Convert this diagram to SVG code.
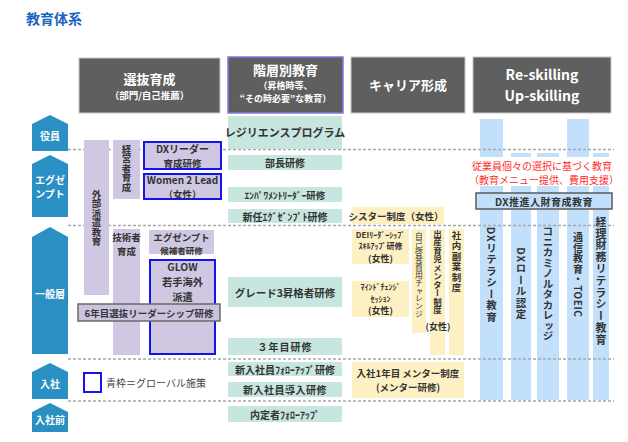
<svg xmlns="http://www.w3.org/2000/svg" width="628" height="442" viewBox="0 0 628 442">
<style>
text{font-family:"Noto Sans CJK JP","Noto Sans",sans-serif;font-weight:bold;fill:#333;text-anchor:middle;dominant-baseline:central}
.hdr{fill:#5f5f5f;stroke:#c8c8c8;stroke-width:1}
.ht{fill:#fff}
.pent{fill:#2a90c3}
.pt{fill:#fff;font-size:10px}
.pur{fill:#d0c8e2}
.glob{fill:#d0c8e2;stroke:#1414f0;stroke-width:2}
.teal{fill:#c6e6df}
.yel{fill:#fdf1c4}
.blu{fill:#c2e0fb}
.v{writing-mode:vertical-rl}
.dash{stroke:#a8a8a8;stroke-width:1.5;stroke-dasharray:3 2;fill:none}
.red{fill:#ff2d2d;font-weight:normal;font-size:10px}
</style>
<rect width="628" height="442" fill="#fff"/>
<text x="26" y="18" style="text-anchor:start;fill:#1d63c2;font-size:14px">教育体系</text>

<!-- headers -->
<g id="h-senbatsu"><rect class="hdr" x="79" y="58" width="141" height="55"/>
<text class="ht" x="149.5" y="78" font-size="13">選抜育成</text>
<text class="ht" x="149.5" y="95" font-size="9.5">（部門/自己推薦）</text></g>
<g id="h-kaiso"><rect x="228" y="57" width="115" height="56" fill="#5f5f5f" stroke="#7b7be8" stroke-width="1.5"/>
<text class="ht" x="285.5" y="69.5" font-size="13">階層別教育</text>
<text class="ht" x="285.5" y="85.5" font-size="9">（昇格時等、</text>
<text class="ht" x="285.5" y="98.7" font-size="9">“その時必要”な教育）</text></g>
<g id="h-career"><rect class="hdr" x="351" y="57" width="114" height="56"/>
<text class="ht" x="408" y="84" font-size="13">キャリア形成</text></g>
<g id="h-reskill"><rect class="hdr" x="473" y="57" width="138" height="56"/>
<text class="ht" x="542" y="74" font-size="14">Re-skilling</text>
<text class="ht" x="542" y="94.5" font-size="14">Up-skilling</text></g>

<!-- level pentagons -->
<g id="lv-yakuin"><path class="pent" d="M32,124 L50,115 L68,124 L68,151 L32,151 Z"/><text class="pt" x="50" y="135">役員</text></g>
<g id="lv-exempt"><path class="pent" d="M32,164 L50,155 L68,164 L68,217 L32,217 Z"/><text class="pt" x="50" y="179.5" font-size="9.5">エグゼ</text><text class="pt" x="50" y="193.5" font-size="9.5">ンプト</text></g>
<g id="lv-ippan"><path class="pent" d="M32,237 L50,227 L68,237 L68,354 L32,354 Z"/><text class="pt" x="50" y="293">一般層</text></g>
<g id="lv-nyusha"><path class="pent" d="M32,372 L50,363 L68,372 L68,399 L32,399 Z"/><text class="pt" x="50" y="383">入社</text></g>
<g id="lv-mae"><path class="pent" d="M32,412 L50,403 L68,412 L68,432 L32,432 Z"/><text class="pt" x="50" y="419">入社前</text></g>

<!-- blue bars -->
<g id="bar-dxlit"><rect class="blu" x="480" y="119" width="23" height="281"/><text class="v" x="491.5" y="275" font-size="10.5" letter-spacing="1">DXリテラシー教育</text></g>
<g id="bar-dxrole"><rect class="blu" x="511" y="153" width="20" height="247"/><text class="v" x="521" y="284" font-size="10.5" letter-spacing="1">DXロール認定</text></g>
<g id="bar-college"><rect class="blu" x="537" y="153" width="22" height="247"/><text class="v" x="548" y="284" font-size="10.5">コニカミノルタカレッジ</text></g>
<g id="bar-toeic"><rect class="blu" x="567" y="119" width="22" height="281"/><text class="v" x="578" y="275" font-size="10" letter-spacing="0.5">通信教育・TOEIC</text></g>
<g id="bar-keiri"><rect class="blu" x="593" y="153" width="16" height="247"/><text class="v" x="601" y="281" font-size="11" letter-spacing="0.8">経理財務リテラシー教育</text></g>
<rect x="473" y="157" width="143" height="29" fill="#fff"/>

<!-- connectors: dashed level separators -->
<g id="connectors">
<line class="dash" x1="68" y1="149.5" x2="614" y2="149.5"/>
<line class="dash" x1="68" y1="225.5" x2="614" y2="225.5"/>
<line class="dash" x1="68" y1="359" x2="614" y2="359"/>
<line class="dash" x1="68" y1="401" x2="614" y2="401"/>
</g>

<g id="red-note"><text class="red" x="542" y="165">従業員個々の選択に基づく教育</text>
<text class="red" x="544" y="179.5">（教育メニュー提供、費用支援）</text></g>
<g id="dx-suishin"><rect x="476" y="193" width="136" height="16" fill="#c2e0fb" stroke="#5a5a5a" stroke-width="1.5"/><text x="544" y="201" font-size="10" letter-spacing="0.5">DX推進人財育成教育</text></g>

<!-- purple (selection) -->
<g id="gaibu"><rect class="pur" x="84" y="140" width="25" height="155"/><text class="v" x="96.5" y="218" font-size="9.5">外部派遣教育</text></g>
<g id="keiei"><rect class="pur" x="113" y="140" width="27" height="59"/><text class="v" x="126.5" y="168" font-size="9.5">経営者育成</text></g>
<g id="dxleader"><rect class="glob" x="144" y="142" width="77" height="27"/><text x="182.5" y="148.5" font-size="10">DXリーダー</text><text x="182.5" y="162.5" font-size="9.5">育成研修</text></g>
<g id="women"><rect class="glob" x="144" y="174" width="77" height="25"/><text x="182.5" y="179.5" font-size="10">Women 2 Lead</text><text x="182.5" y="193.5" font-size="9.5">（女性）</text></g>
<g id="gijutsu"><rect class="pur" x="113" y="229" width="27" height="126"/><text x="126.5" y="237" font-size="9.5">技術者</text><text x="126.5" y="251" font-size="9.5">育成</text></g>
<g id="exkoho"><rect class="pur" x="149" y="230" width="65" height="24"/><text x="181.5" y="236.5" font-size="9.5">エグゼンプト</text><text x="181.5" y="249.5" font-size="8.5">候補者研修</text></g>
<g id="glow"><rect class="glob" x="150" y="260" width="65" height="94"/><text x="182.5" y="266.5" font-size="10.3">GLOW</text><text x="182.5" y="281.5" font-size="10.3">若手海外</text><text x="182.5" y="296.5" font-size="10.3">派遣</text></g>
<g id="rokunen"><rect x="78" y="304" width="142" height="17" fill="#cbc3dd" stroke="#6a6a6a" stroke-width="1.5"/><text x="149" y="312.5" font-size="9.5">6年目選抜リーダーシップ研修</text></g>

<!-- teal (hierarchy) -->
<g id="resilience"><rect class="teal" x="228" y="116" width="114" height="33"/><text x="285" y="132" font-size="11">レジリエンスプログラム</text></g>
<g id="bucho"><rect class="teal" x="228" y="155" width="114" height="15"/><text x="285" y="162.5" font-size="10">部長研修</text></g>
<g id="empower"><rect class="teal" x="228" y="187" width="114" height="15"/><text x="285" y="194.5" font-size="9.5">ｴﾝﾊﾟﾜﾒﾝﾄﾘｰﾀﾞｰ研修</text></g>
<g id="shinnin"><rect class="teal" x="228" y="209" width="114" height="14"/><text x="285" y="216" font-size="10">新任ｴｸﾞｾﾞﾝﾌﾟﾄ研修</text></g>
<g id="grade3"><rect class="teal" x="228" y="277" width="114" height="30"/><text x="285" y="292" font-size="10.5">グレード3昇格者研修</text></g>
<g id="sannen"><rect class="teal" x="228" y="338" width="114" height="17"/><text x="285" y="346.5" font-size="10" letter-spacing="1">３年目研修</text></g>
<g id="follow"><rect class="teal" x="228" y="362" width="114" height="14"/><text x="285" y="369" font-size="10">新入社員ﾌｫﾛｰｱｯﾌﾟ研修</text></g>
<g id="donyu"><rect class="teal" x="228" y="382" width="114" height="15"/><text x="285" y="389.5" font-size="10" letter-spacing="0.5">新入社員導入研修</text></g>
<g id="naitei"><rect class="teal" x="228" y="406" width="114" height="16"/><text x="285" y="414" font-size="10">内定者ﾌｫﾛｰｱｯﾌﾟ</text></g>

<!-- yellow (career) -->
<g id="sister"><rect class="yel" x="352" y="207" width="92" height="17"/><text x="396" y="215.5" font-size="9.5">シスター制度（女性）</text></g>
<g id="dei"><rect class="yel" x="352" y="229" width="57" height="35"/><text x="380.5" y="234" font-size="8">DEIﾘｰﾀﾞｰｼｯﾌﾟ</text><text x="380.5" y="245.7" font-size="8">ｽｷﾙｱｯﾌﾟ研修</text><text x="380.5" y="258" font-size="9">(女性)</text></g>
<g id="mind"><rect class="yel" x="352" y="281" width="57" height="36"/><text x="380.5" y="286.5" font-size="8">ﾏｲﾝﾄﾞﾁｪﾝｼﾞ</text><text x="380.5" y="298.2" font-size="8">ｾｯｼｮﾝ</text><text x="380.5" y="310.5" font-size="9">(女性)</text></g>
<g id="jiko"><rect class="yel" x="412" y="229" width="14" height="104"/><text class="v" x="419" y="275" font-size="7.8" style="font-weight:normal">自己啓発費用チャレンジ</text></g>
<g id="fukugyo"><rect class="yel" x="449" y="229" width="15" height="126"/><text class="v" x="456.5" y="262" font-size="9.5" letter-spacing="1">社内副業制度</text></g>
<g id="shussan"><rect class="yel" x="430" y="229" width="15" height="126"/><text class="v" x="437.5" y="272" font-size="8.5">出産育児メンター制度</text><text x="438" y="326" font-size="9">(女性)</text></g>
<g id="mentor"><rect class="yel" x="352" y="362" width="112" height="36"/><text x="408" y="372.5" font-size="9.5">入社1年目 メンター制度</text><text x="408" y="386.5" font-size="9.5">(メンター研修)</text></g>

<!-- legend -->
<g id="legend"><rect x="84" y="373" width="17" height="19" fill="#fff" stroke="#1414f0" stroke-width="2"/><text x="106" y="382" font-size="10" style="text-anchor:start;font-weight:normal;fill:#444">青枠＝グローバル施策</text></g>
</svg>
